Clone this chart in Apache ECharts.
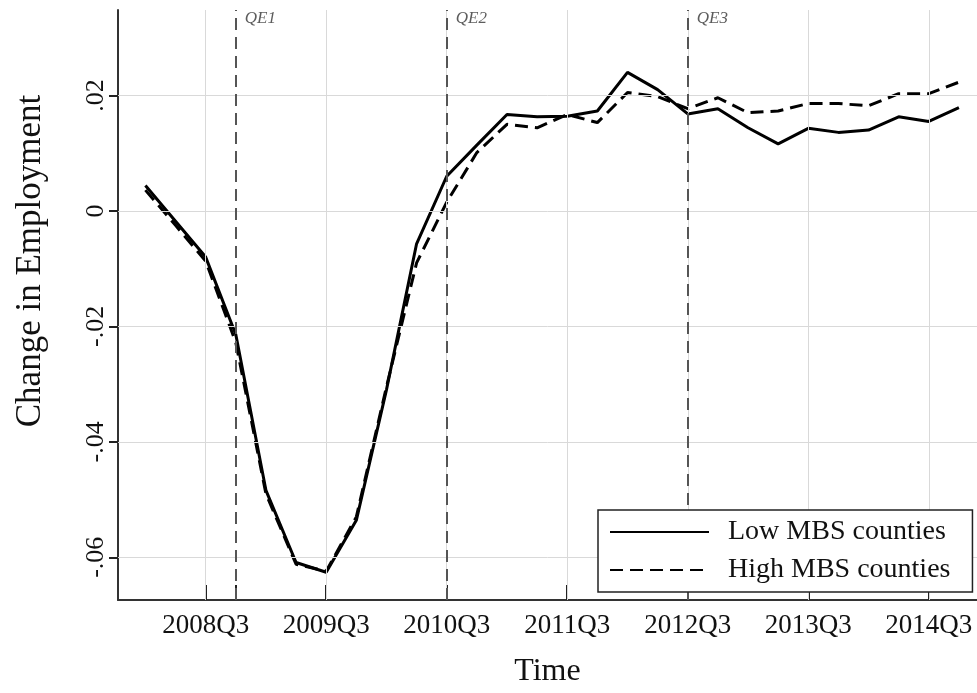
<!DOCTYPE html>
<html><head><meta charset="utf-8">
<script src="https://cdn.jsdelivr.net/npm/echarts@6/dist/echarts.min.js"></script>
<style>html,body{margin:0;padding:0;background:#fff}#c{width:977px;height:693px}</style>
</head><body><div id="c"></div>
<script>
const quarters = ['2008Q1','2008Q2','2008Q3','2008Q4','2009Q1','2009Q2','2009Q3','2009Q4',
  '2010Q1','2010Q2','2010Q3','2010Q4','2011Q1','2011Q2','2011Q3','2011Q4',
  '2012Q1','2012Q2','2012Q3','2012Q4','2013Q1','2013Q2','2013Q3','2013Q4',
  '2014Q1','2014Q2','2014Q3','2014Q4'];
const lowMBS = [0.0044, -0.0018, -0.0080, -0.0214, -0.0484, -0.0609, -0.0626, -0.0536,
  -0.0310, -0.0057, 0.0060, 0.0114, 0.0167, 0.0163, 0.0164, 0.0173,
  0.0240, 0.0210, 0.0168, 0.0177, 0.0144, 0.0116, 0.0143, 0.0136,
  0.0140, 0.0163, 0.0155, 0.0179];
const highMBS = [0.0036, -0.0025, -0.0087, -0.0228, -0.0490, -0.0612, -0.0624, -0.0530,
  -0.0305, -0.0090, 0.0015, 0.0101, 0.0150, 0.0144, 0.0167, 0.0153,
  0.0205, 0.0198, 0.0177, 0.0196, 0.0170, 0.0173, 0.0186, 0.0186,
  0.0182, 0.0203, 0.0203, 0.0223];
const xTickIdx = [2, 6, 10, 14, 18, 22, 26];
const qeIdx = [3, 10, 18];
const qeNames = ['QE1', 'QE2', 'QE3'];
const yTickValues = [-0.06, -0.04, -0.02, 0, 0.02];
const yTickLabels = ['-.06', '-.04', '-.02', '0', '.02'];
const seriesNames = ['Low MBS counties', 'High MBS counties'];

const FONT = 'Liberation Serif';
const allXTicks = Array.from(new Set(xTickIdx.concat(qeIdx))).sort((a, b) => a - b);
const yLabel = v => {
  const k = yTickValues.findIndex(t => Math.abs(t - v) < 1e-9);
  return k >= 0 ? yTickLabels[k] : '';
};

const chart = echarts.init(document.getElementById('c'), null, {renderer: 'canvas'});
chart.setOption({
  animation: false,
  backgroundColor: '#fff',
  textStyle: {fontFamily: FONT},
  grid: {left: 118, right: 0, top: 10, bottom: 90, containLabel: false},
  legend: {
    data: seriesNames,
    orient: 'vertical',
    left: 598, top: 510, z: 10,
    itemWidth: 99, itemHeight: 14, itemGap: 8,
    padding: [7, 22, 7, 11],
    backgroundColor: '#fff',
    borderColor: '#222', borderWidth: 1.5, borderRadius: 0,
    itemStyle: {opacity: 0, borderWidth: 0},
    textStyle: {fontFamily: FONT, fontSize: 28, lineHeight: 30, color: '#111', padding: [0, 0, 0, 14]}
  },
  xAxis: {
    type: 'value', min: -0.91, max: 27.6, z: 3,
    axisLine: {show: true, onZero: false, lineStyle: {color: '#333', width: 2}},
    axisTick: {show: true, customValues: allXTicks, inside: true, length: 15, lineStyle: {color: '#222', width: 2}},
    axisLabel: {customValues: xTickIdx, formatter: v => quarters[Math.round(v)], fontFamily: FONT, fontSize: 27, color: '#111', margin: 12},
    splitLine: {show: false},
    name: 'Time', nameLocation: 'middle', nameGap: 56,
    nameTextStyle: {fontFamily: FONT, fontSize: 32, color: '#111'}
  },
  yAxis: {
    type: 'value', min: -0.0674, max: 0.0348, z: 3,
    axisLine: {show: true, onZero: false, lineStyle: {color: '#333', width: 2}},
    axisTick: {show: true, customValues: yTickValues, length: 9, lineStyle: {color: '#222', width: 2}},
    axisLabel: {customValues: yTickValues, formatter: yLabel, rotate: 90, fontFamily: FONT, fontSize: 26, color: '#111', margin: 9},
    splitLine: {show: false},
    name: 'Change in Employment', nameLocation: 'middle', nameGap: 70,
    nameTextStyle: {fontFamily: FONT, fontSize: 35, color: '#111', padding: [0, 0, 0, 88]}
  },
  series: [
    {
      name: 'grid', type: 'line', data: [], z: 0, silent: true,
      markLine: {
        silent: true, symbol: ['none', 'none'], label: {show: false},
        lineStyle: {color: '#d9d9d9', width: 1, type: 'solid'},
        data: yTickValues.map(v => ({yAxis: v})).concat(xTickIdx.map(v => ({xAxis: v})))
      }
    },
    {
      name: 'QE', type: 'scatter', z: 2, silent: true,
      symbolSize: 0,
      data: qeIdx.map((x, k) => ({value: [x, 0.0333], name: qeNames[k]})),
      label: {show: true, position: 'right', distance: 9, formatter: '{b}', fontFamily: FONT, fontStyle: 'italic', fontSize: 17, color: '#333'},
      markLine: {
        silent: true, symbol: ['none', 'none'], label: {show: false},
        lineStyle: {color: '#555', width: 2, type: [12, 7]},
        data: qeIdx.map(x => ({xAxis: x}))
      }
    },
    {
      name: seriesNames[0], type: 'line', z: 4, symbol: 'none',
      data: lowMBS.map((v, i) => [i, v]),
      lineStyle: {color: '#000', width: 3}, itemStyle: {color: '#000'}
    },
    {
      name: seriesNames[1], type: 'line', z: 4, symbol: 'none',
      data: highMBS.map((v, i) => [i, v]),
      lineStyle: {color: '#000', width: 3, type: [13, 7]}, itemStyle: {color: '#000'}
    }
  ]
});
</script></body></html>
